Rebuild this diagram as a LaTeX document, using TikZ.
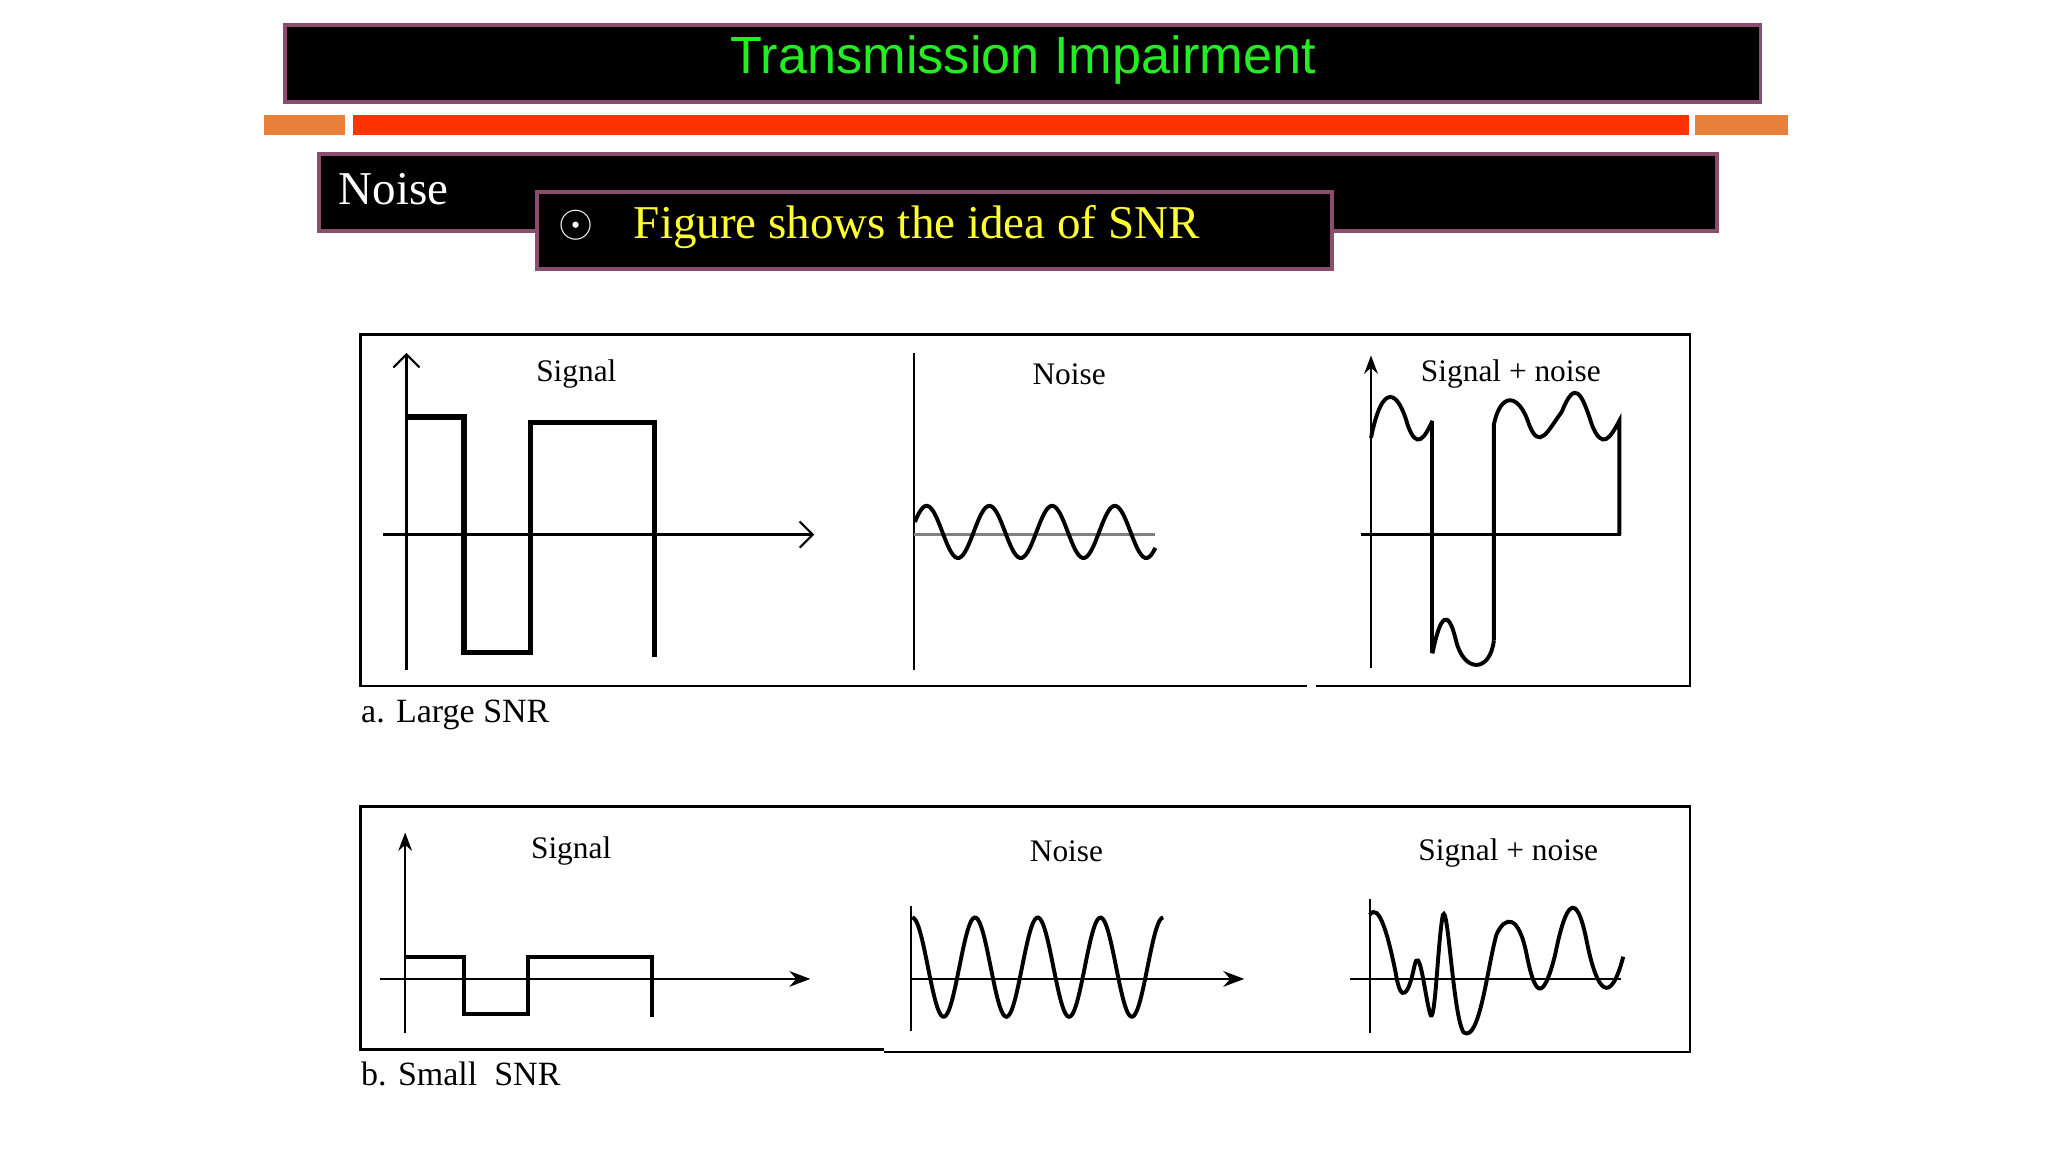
\documentclass[tikz,border=0pt]{standalone}
\usepackage{fontspec}
\setmainfont{Liberation Serif}
\newfontfamily\titlefont{Liberation Sans}
\usetikzlibrary{arrows.meta}
\definecolor{bord}{HTML}{8B4D6E}
\definecolor{orng}{HTML}{E8803A}
\definecolor{redo}{HTML}{FF3300}
\definecolor{ttlg}{HTML}{22EE22}
\definecolor{ylw}{HTML}{FFFF33}
\tikzset{
 blackbox/.style={fill=black,draw=bord,line width=1.5pt},
 frm/.style={line width=1pt},
 ax/.style={line width=0.8pt},
 sq/.style={line width=2pt},
 wv/.style={line width=1.5pt,smooth},
 lbl/.style={font=\fontsize{12}{14}\selectfont,inner sep=0pt},
 captxt/.style={font=\fontsize{13}{15}\selectfont,inner sep=0pt,anchor=west}
}
\begin{document}
\begin{tikzpicture}[x=0.5pt,y=-0.5pt]
\useasboundingbox[fill=white] (0,0) rectangle (1567,881);
% header
\draw[blackbox] (218,19) rectangle (1347,78);
\node[text=ttlg,font=\titlefont\fontsize{20}{24}\selectfont] (title) at (783,46) {Transmission Impairment};
\fill[orng] (202,88) rectangle (264,103);
\fill[redo] (270,88) rectangle (1292,103);
\fill[orng] (1297,88) rectangle (1368,103);
\draw[blackbox] (244,118) rectangle (1314,177);
\node[text=white,anchor=west,font=\fontsize{18}{20}\selectfont] (noise) at (252,145) {Noise};
\draw[blackbox] (411,147) rectangle (1019,206);
\node[text=white,font=\fontsize{18}{20}\selectfont] (dot) at (441,172) {$\odot$};
\node[text=ylw,anchor=west,font=\fontsize{18}{20}\selectfont] (fig) at (478,174) {Figure shows the idea of SNR};
% panel a
\draw[frm] (1000,525) -- (276,525) -- (276,256) -- (1293,256) -- (1293,525) -- (1007,525);
\node[captxt] (capa) at (276,547) {a. Large SNR};
\draw[ax,-{Straight Barb[length=5pt]}] (311,513) -- (311,270);
\draw[ax,-{Straight Barb[length=5pt]}] (293,409) -- (623,409);
\draw[sq] (311,319) -- (355,319) -- (355,499) -- (406,499) -- (406,323) -- (501,323) -- (501,503);
\node[lbl] (sa) at (441,286) {Signal};
\draw[ax] (699,270) -- (699,513);
\draw[line width=1pt,gray] (699,409) -- (884,409);
\draw[wv] plot[domain=0:184,samples=120] ({700+\x},{407-20*sin(7.5*(\x-45))});
\node[lbl] (na) at (818,286) {Noise};
\draw[ax,-{Stealth[length=7pt]}] (1049,511) -- (1049,272);
\draw[ax] (1041,409) -- (1240,409);
\draw[wv] (1049,335) .. controls (1058,290) and (1070,300) .. (1077,325) .. controls (1084,345) and (1090,335) .. (1096,322);
\draw[line width=1.5pt] (1096,322) -- (1096,500);
\draw[wv] (1096,500) .. controls (1102,470) and (1108,465) .. (1114,490) .. controls (1120,515) and (1140,515) .. (1143,490);
\draw[line width=1.5pt] (1143,490) -- (1143,325) .. controls (1148,300) and (1162,300) .. (1170,325) .. controls (1178,345) and (1184,330) .. (1195,315) .. controls (1205,290) and (1210,300) .. (1218,325) .. controls (1226,345) and (1232,335) .. (1239,322) -- (1239,409);
\node[lbl] (sna) at (1156,286) {Signal + noise};
% panel b
\draw[frm] (676,803) -- (276,803) -- (276,617) -- (1293,617) -- (1293,805) -- (676,805);
\node[captxt] (capb) at (276,822) {b. Small\ \ SNR};
\draw[ax,-{Stealth[length=7pt]}] (310,790) -- (310,637);
\draw[ax,-{Stealth[length=8pt]}] (291,749) -- (620,749);
\draw[line width=1.5pt] (310,732) -- (355,732) -- (355,776) -- (404,776) -- (404,732) -- (499,732) -- (499,778);
\node[lbl] (sb) at (437,651) {Signal};
\draw[ax] (697,693) -- (697,789);
\draw[ax,-{Stealth[length=8pt]}] (697,749) -- (952,749);
\draw[wv] plot[domain=0:192,samples=150] ({698+\x},{740-38*sin(7.5*(\x-36))});
\node[lbl] (nb) at (816,651) {Noise};
\draw[ax] (1048,688) -- (1048,790);
\draw[ax] (1033,749) -- (1240,749);
\draw[wv] (1048,700) .. controls (1055,690) and (1062,715) .. (1068,745) .. controls (1072,770) and (1078,760) .. (1082,740) .. controls (1086,720) and (1090,760) .. (1094,775) .. controls (1098,790) and (1100,720) .. (1104,700) .. controls (1108,690) and (1112,780) .. (1120,790) .. controls (1132,798) and (1138,740) .. (1145,715) .. controls (1152,700) and (1162,700) .. (1168,730) .. controls (1174,760) and (1180,770) .. (1190,730) .. controls (1198,690) and (1206,680) .. (1214,720) .. controls (1222,760) and (1232,770) .. (1242,732);
\node[lbl] (snb) at (1154,653) {Signal + noise};
\end{tikzpicture}
\end{document}
